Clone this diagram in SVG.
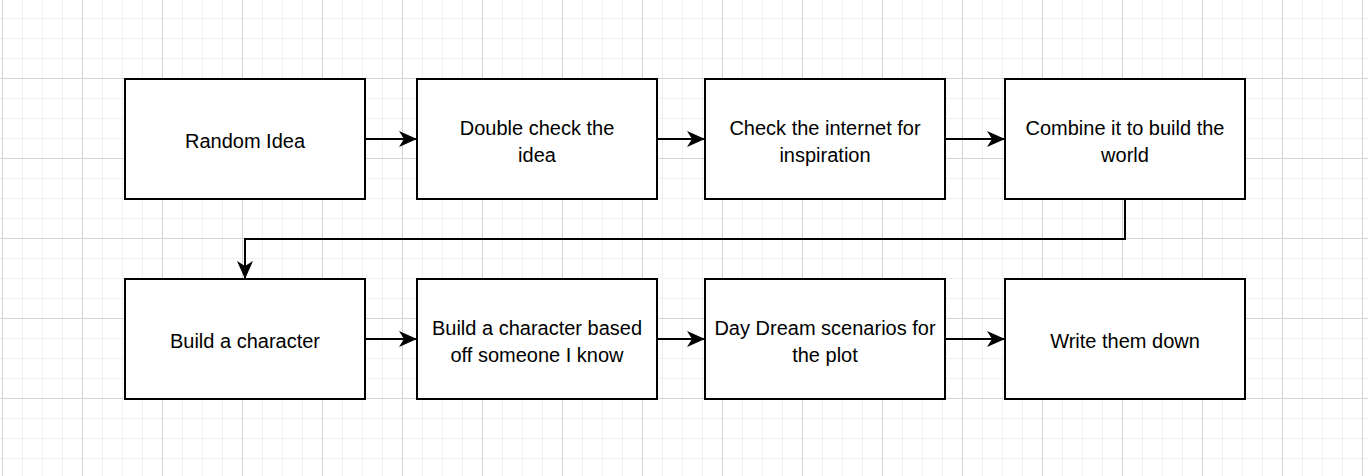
<svg xmlns="http://www.w3.org/2000/svg" width="1368" height="476" viewBox="0 0 1368 476">
<defs>
<pattern id="grid" patternUnits="userSpaceOnUse" x="2" y="-2" width="80" height="80">
<path d="M20.5 0V80M40.5 0V80M60.5 0V80M0 20.5H80M0 40.5H80M0 60.5H80" stroke="#f0f0f0" stroke-width="1" fill="none"/>
<path d="M0.5 0V80M0 0.5H80" stroke="#d4d4d4" stroke-width="1" fill="none"/>
</pattern>
<marker id="arr" viewBox="0 0 18 16" refX="17" refY="8" markerWidth="18" markerHeight="16" markerUnits="userSpaceOnUse" orient="auto">
<path d="M0 0L18 8L0 16L5 8Z" fill="#000"/>
</marker>
<style>
.box{fill:#fff;stroke:#000;stroke-width:2}
.lbl{font-family:"Liberation Sans",Arial,sans-serif;font-size:20px;fill:#000;text-anchor:middle}
.edge{fill:none;stroke:#000;stroke-width:2;marker-end:url(#arr)}
</style>
</defs>
<rect width="1368" height="476" fill="#fff"/>
<rect width="1368" height="476" fill="url(#grid)"/>
<g id="connectors">
<path class="edge" d="M365 139H416"/>
<path class="edge" d="M657 139H704"/>
<path class="edge" d="M945 139H1004"/>
<path class="edge" d="M1125 199V239H245V278"/>
<path class="edge" d="M365 339H416"/>
<path class="edge" d="M657 339H704"/>
<path class="edge" d="M945 339H1004"/>
</g>
<g id="n1"><rect class="box" x="125" y="79" width="240" height="120"/><text class="lbl" x="245" y="148">Random Idea</text></g>
<g id="n2"><rect class="box" x="417" y="79" width="240" height="120"/><text class="lbl" x="537" y="134.5">Double check the</text><text class="lbl" x="537" y="161.5">idea</text></g>
<g id="n3"><rect class="box" x="705" y="79" width="240" height="120"/><text class="lbl" x="825" y="134.5">Check the internet for</text><text class="lbl" x="825" y="161.5">inspiration</text></g>
<g id="n4"><rect class="box" x="1005" y="79" width="240" height="120"/><text class="lbl" x="1125" y="134.5">Combine it to build the</text><text class="lbl" x="1125" y="161.5">world</text></g>
<g id="n5"><rect class="box" x="125" y="279" width="240" height="120"/><text class="lbl" x="245" y="348">Build a character</text></g>
<g id="n6"><rect class="box" x="417" y="279" width="240" height="120"/><text class="lbl" x="537" y="334.5">Build a character based</text><text class="lbl" x="537" y="361.5">off someone I know</text></g>
<g id="n7"><rect class="box" x="705" y="279" width="240" height="120"/><text class="lbl" x="825" y="334.5">Day Dream scenarios for</text><text class="lbl" x="825" y="361.5">the plot</text></g>
<g id="n8"><rect class="box" x="1005" y="279" width="240" height="120"/><text class="lbl" x="1125" y="348">Write them down</text></g>
</svg>
